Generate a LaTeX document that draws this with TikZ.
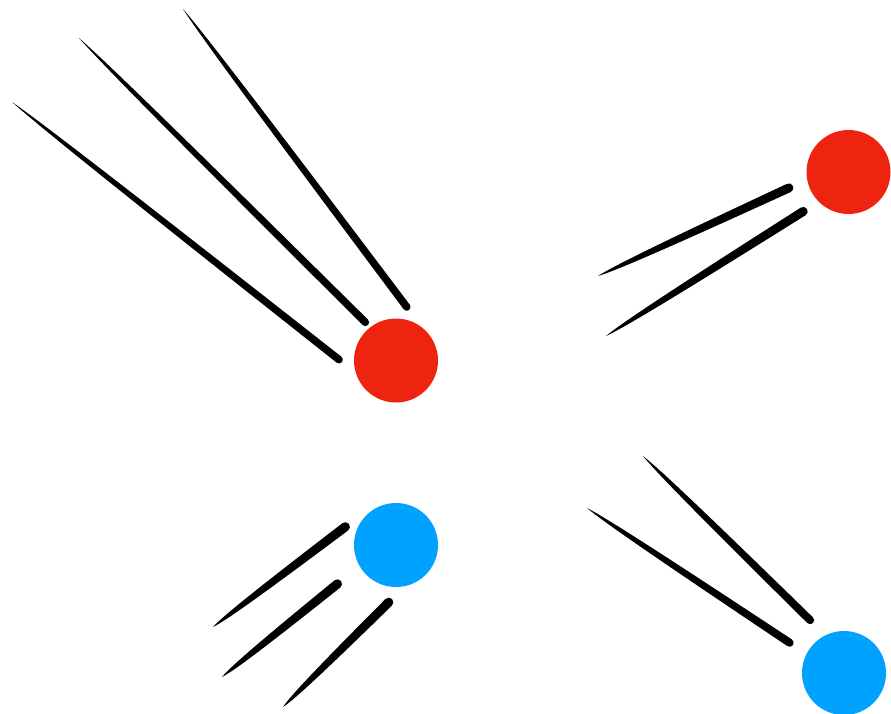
\documentclass[tikz,border=0pt]{standalone}
\definecolor{ballred}{HTML}{EE2310}
\definecolor{ballblue}{HTML}{00A2FF}
\newcommand\brushline[5]{%
  \pgfmathsetmacro\bl{veclen(#3-#1,#4-#2)}%
  \pgfmathsetmacro\ba{atan2(#4-#2,#3-#1)}%
  \fill[black,shift={(#1,#2)},rotate=\ba]
    (0,0) .. controls (0.08*\bl,0.55*#5) and (0.3*\bl,0.85*#5) .. (\bl-#5,#5)
    .. controls (\bl-0.45*#5,#5) and (\bl,0.55*#5) .. (\bl,0)
    .. controls (\bl,-0.55*#5) and (\bl-0.45*#5,-#5) .. (\bl-#5,-#5)
    .. controls (0.3*\bl,-0.85*#5) and (0.08*\bl,-0.55*#5) .. (0,0) -- cycle;}
\begin{document}
\begin{tikzpicture}[x=1pt,y=1pt,yscale=-1]
\tikzset{ball/.style={circle,minimum size=84pt,inner sep=0pt}}
\clip (0,0) rectangle (891,713);
\fill[white] (0,0) rectangle (891,713);
% big red group
\node[ball,fill=ballred] (r1) at (396,360.5) {};
\brushline{12}{102}{342}{362}{3.8}
\brushline{79}{38}{368}{325}{3.8}
\brushline{183}{9}{409}{310}{3.8}
% top right red
\node[ball,fill=ballred] (r2) at (848.5,172) {};
\brushline{598}{276}{793}{186}{4.5}
\brushline{606}{336}{807}{209}{4.5}
% left blue
\node[ball,fill=ballblue] (b1) at (396,545) {};
\brushline{213}{627}{349}{524}{4.6}
\brushline{222}{677}{341}{581}{4.6}
\brushline{283}{707}{392}{599}{4.6}
% bottom right blue
\node[ball,fill=ballblue] (b2) at (844,673) {};
\brushline{587}{508}{793}{645}{4.0}
\brushline{643}{456}{813}{623}{4.0}
\end{tikzpicture}
\end{document}
